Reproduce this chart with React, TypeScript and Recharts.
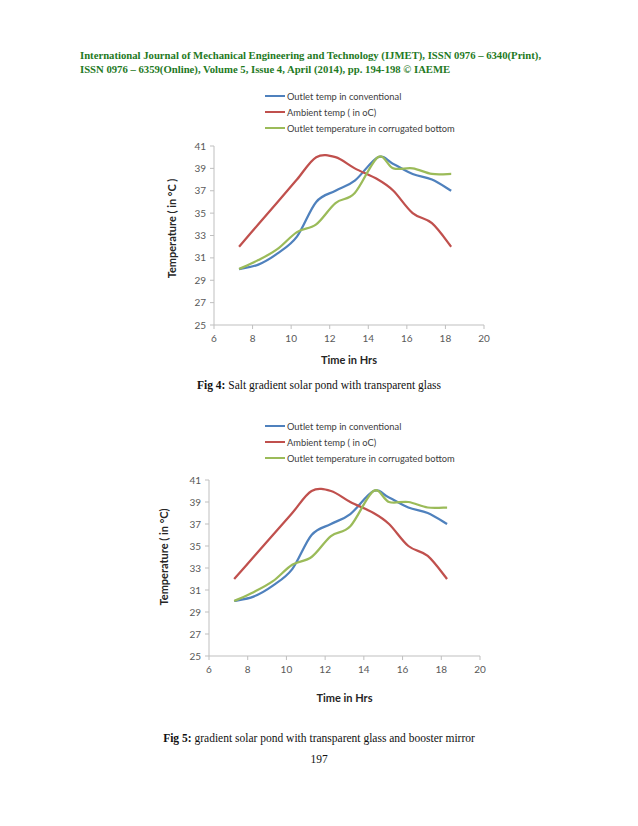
import React from "react";
import { Legend, Line, LineChart, XAxis, YAxis } from "recharts";

// hours at which readings were taken (shared by all three series)
const hours = [7.3, 8.3, 9.3, 10.3, 11.3, 12.3, 13.3, 14.5, 15.3, 16.3, 17.3, 18.3];
const conventional = [30, 30.4, 31.4, 32.9, 36, 37, 37.9, 40, 39.4, 38.5, 38, 37];
const ambient = [32, 34, 36, 38, 40, 40, 39, 38, 37, 35, 34.1, 32];
const corrugated = [30, 30.8, 31.8, 33.3, 34, 35.9, 36.8, 40, 39, 39, 38.5, 38.5];

const xTicks = [6, 8, 10, 12, 14, 16, 18, 20];
const yTicks = [25, 27, 29, 31, 33, 35, 37, 39, 41];

const seriesNames = [
  "Outlet temp in conventional",
  "Ambient temp ( in oC)",
  "Outlet temperature in corrugated bottom",
];

const rows = hours.map((h, i) => ({
  hour: h,
  conventional: conventional[i],
  ambient: ambient[i],
  corrugated: corrugated[i],
}));

const BLUE = "#4f81bd";
const RED = "#c0504d";
const GREEN = "#9bbb59";
const AXIS = "#bfbfbf";
const SANS = "Lato, 'Open Sans', sans-serif";

// Excel style smoothed line (catmull-rom through every point)
function excelSmooth(context: any) {
  let pts: number[][] = [];
  return {
    areaStart() {},
    areaEnd() {},
    lineStart() {
      pts = [];
    },
    lineEnd() {
      if (!pts.length) return;
      context.moveTo(pts[0][0], pts[0][1]);
      for (let i = 0; i < pts.length - 1; i++) {
        const p0 = pts[i - 1] || pts[i];
        const p1 = pts[i];
        const p2 = pts[i + 1];
        const p3 = pts[i + 2] || p2;
        context.bezierCurveTo(
          p1[0] + (p2[0] - p0[0]) / 6,
          p1[1] + (p2[1] - p0[1]) / 6,
          p2[0] - (p3[0] - p1[0]) / 6,
          p2[1] - (p3[1] - p1[1]) / 6,
          p2[0],
          p2[1]
        );
      }
    },
    point(x: number, y: number) {
      pts.push([+x, +y]);
    },
  };
}

function LegendBox() {
  const colors = [BLUE, RED, GREEN];
  return (
    <div style={{ fontFamily: SANS, fontSize: 9.3, color: "#404040" }}>
      {seriesNames.map((n, i) => (
        <div key={n} style={{ display: "flex", alignItems: "center", height: 16 }}>
          <span
            style={{
              display: "inline-block",
              width: 20,
              height: 2.5,
              background: colors[i],
              marginRight: 2,
            }}
          />
          <span>{n}</span>
        </div>
      ))}
    </div>
  );
}

interface FigProps {
  yLabel: string;
  top: number;
  left: number;
  marginTop: number;
  marginRight: number;
  xAxisHeight: number;
  marginBottom: number;
  xLabelOffset: number;
  yLabelX: number;
  yLabelShift: number;
  legendTop: number;
  legendLeft: number;
}

function TempChart(p: FigProps) {
  const yLabel = (props: any) => {
    const vb = props.viewBox;
    const cx = p.yLabelX;
    const cy = vb.y + vb.height / 2 - p.yLabelShift;
    return (
      <text
        x={cx}
        y={cy}
        transform={`rotate(-90, ${cx}, ${cy})`}
        textAnchor="middle"
        dominantBaseline="central"
        fontFamily={SANS}
        fontSize={11}
        fontWeight="bold"
        fill="#262626"
      >
        {p.yLabel}
      </text>
    );
  };

  return (
    <div style={{ position: "absolute", top: p.top, left: p.left }}>
      <LineChart
        width={350}
        height={300}
        data={rows}
        margin={{ top: p.marginTop, right: p.marginRight, left: 24, bottom: p.marginBottom }}
      >
        <XAxis
          type="number"
          dataKey="hour"
          domain={[6, 20]}
          ticks={xTicks}
          height={p.xAxisHeight}
          stroke={AXIS}
          tickSize={4}
          tickMargin={6}
          tick={{ fill: "#595959", fontSize: 10, fontFamily: SANS }}
          label={{
            value: "Time in Hrs",
            position: "insideBottom",
            offset: p.xLabelOffset,
            fill: "#262626",
            fontSize: 11,
            fontWeight: "bold",
            fontFamily: SANS,
          }}
        />
        <YAxis
          type="number"
          domain={[25, 41]}
          ticks={yTicks}
          width={40}
          stroke={AXIS}
          tickSize={4}
          tickMargin={4}
          tick={{ fill: "#595959", fontSize: 10, fontFamily: SANS }}
          label={yLabel}
        />
        <Legend
          layout="vertical"
          align="center"
          verticalAlign="middle"
          content={() => <LegendBox />}
          wrapperStyle={{ top: p.legendTop, left: p.legendLeft, width: "auto" }}
        />
        <Line
          dataKey="conventional"
          type={excelSmooth as any}
          stroke={BLUE}
          strokeWidth={2.25}
          dot={false}
          isAnimationActive={false}
        />
        <Line
          dataKey="ambient"
          type={excelSmooth as any}
          stroke={RED}
          strokeWidth={2.25}
          dot={false}
          isAnimationActive={false}
        />
        <Line
          dataKey="corrugated"
          type={excelSmooth as any}
          stroke={GREEN}
          strokeWidth={2.25}
          dot={false}
          isAnimationActive={false}
        />
      </LineChart>
    </div>
  );
}

const center: React.CSSProperties = {
  position: "absolute",
  left: 0,
  width: 638,
  textAlign: "center",
  fontSize: 11.5,
  lineHeight: "14px",
  color: "#111",
};

export default function App() {
  return (
    <div
      style={{
        position: "absolute",
        top: 0,
        left: 0,
        width: 638,
        height: 826,
        background: "#fff",
        fontFamily: "'Liberation Serif', 'Times New Roman', serif",
        overflow: "hidden",
      }}
    >
      <div
        style={{
          position: "absolute",
          top: 48,
          left: 80,
          fontSize: 10.7,
          lineHeight: "14px",
          fontWeight: "bold",
          color: "#1f7a1f",
          whiteSpace: "nowrap",
        }}
      >
        International Journal of Mechanical Engineering and Technology (IJMET), ISSN 0976 – 6340(Print),
        <br />
        ISSN 0976 – 6359(Online), Volume 5, Issue 4, April (2014), pp. 194-198 © IAEME
      </div>

      <TempChart
        yLabel="Temperature ( in °C )"
        top={80}
        left={150}
        marginTop={66}
        marginRight={16}
        xAxisHeight={41}
        marginBottom={14}
        xLabelOffset={2}
        yLabelX={21}
        yLabelShift={7}
        legendTop={8}
        legendLeft={115}
      />
      <div style={{ ...center, top: 378 }}>
        <b>Fig 4:</b> Salt gradient solar pond with transparent glass
      </div>

      <TempChart
        yLabel="Temperature  ( in °C)"
        top={410}
        left={145}
        marginTop={70}
        marginRight={15}
        xAxisHeight={50}
        marginBottom={4}
        xLabelOffset={4}
        yLabelX={18}
        yLabelShift={11}
        legendTop={8}
        legendLeft={120}
      />
      <div style={{ ...center, top: 731 }}>
        <b>Fig 5:</b> gradient solar pond with transparent glass and booster mirror
      </div>
      <div style={{ ...center, top: 752 }}>197</div>
    </div>
  );
}
